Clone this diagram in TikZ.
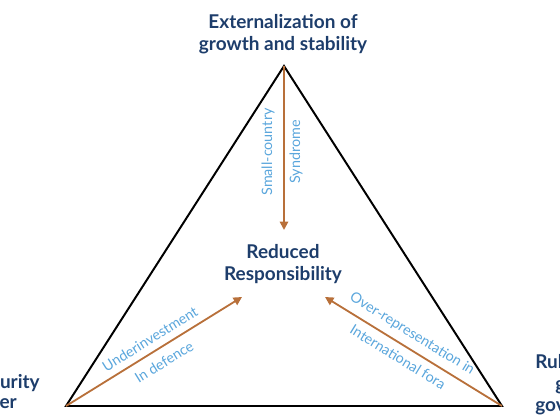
\documentclass[tikz,border=0pt]{standalone}
\usepackage{fontspec}
\setmainfont{Lato}
\usepackage{xcolor}
\usetikzlibrary{arrows.meta,calc,positioning}
\definecolor{navy}{HTML}{1D3D6B}
\definecolor{rust}{HTML}{B8703A}
\definecolor{sky}{HTML}{5AA6DC}
\tikzset{pole/.style={font=\bfseries\fontsize{13.5}{16}\selectfont,text=navy,align=center,inner sep=0pt},
  frag/.style={font=\bfseries\fontsize{13.5}{16}\selectfont,text=navy,inner sep=0pt},
  lbl/.style={font=\fontsize{10.2}{12}\selectfont,text=sky,inner sep=0pt},
  arr/.style={-{Triangle[length=6pt,width=6pt]},line width=1.3pt,rust}}

\begin{document}
\begin{tikzpicture}[x=0.025cm,y=-0.025cm]
\useasboundingbox (0,0) rectangle (560,420);
% corners of the triangle
\coordinate (top) at (284,66);
\coordinate (bl) at (66,406);
\coordinate (br) at (502,406);
\draw[line width=1.4pt,line join=miter] (top)--(bl)--(br)--cycle;
\node[pole] (ext) at (283,34) {Externalization of\\growth and stability};
\node[pole] (red) at (283,264) {Reduced\\Responsibility};
% cut-off labels at the sides
\node[frag,anchor=base east] (secA) at (40,388) {curity};
\node[frag,anchor=base east] (secB) at (17,408) {er};
\node[frag,anchor=base west] (rulA) at (535,368) {Rul};
\node[frag,anchor=base west] (rulB) at (555,390) {g};
\node[frag,anchor=base west] (rulC) at (535,411) {gov};
% arrows into the centre
\coordinate (tipv) at (284,230);
\coordinate (tipl) at (242,297);
\coordinate (tipr) at (325,297);
\draw[arr] (top)--(tipv);
\draw[arr] (bl)--(tipl);
\draw[arr] (br)--(tipr);
\node[lbl,rotate=90] (small) at (268,152) {Small-country};
\node[lbl,rotate=90] (synd) at (296,152) {Syndrome};
\node[lbl,rotate=31.8] (under) at (150,339) {Underinvestment};
\node[lbl,rotate=31.8] (indef) at (164,362) {In defence};
\node[lbl,rotate=-31.6] (over) at (412,334) {Over-representation in};
\node[lbl,rotate=-31.6] (intl) at (398,357) {International fora};
\end{tikzpicture}
\end{document}
